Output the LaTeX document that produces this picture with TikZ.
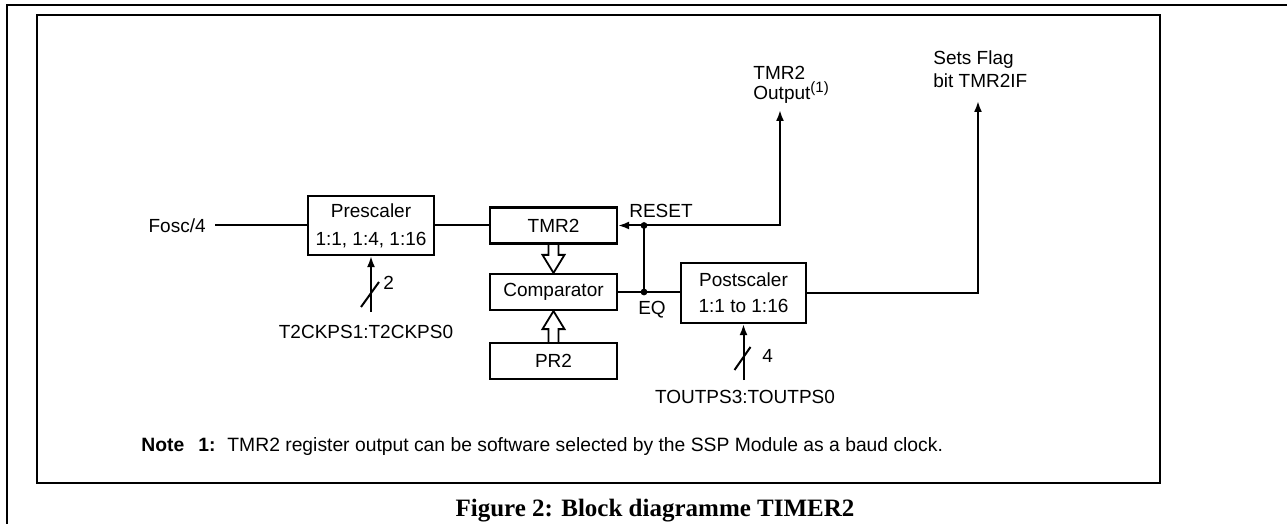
\documentclass[tikz,border=0pt]{standalone}
\usepackage{fontspec}
\setmainfont{Liberation Sans}
\newfontfamily\captionserif{Liberation Serif}
\usetikzlibrary{arrows.meta,calc}
\begin{document}
\begin{tikzpicture}[x=0.5pt,y=-0.5pt,
  every node/.style={font=\fontsize{9.5}{11.5}\selectfont, inner sep=0pt},
  blk/.style={draw, line width=1.1pt, align=center},
  wire/.style={line width=1pt},
  arr/.style={wire, -{Latex[length=5.5pt,width=4pt]}},
  hollow/.style={draw, line width=0.9pt, line join=miter},
  jdot/.style={circle, fill, minimum size=3.4pt, inner sep=0pt},
  frame/.style={line width=1.1pt}]
\useasboundingbox (0,0) rectangle (1287,524);

% page rules and figure frame
\draw[frame] (7,524) -- (7,5) -- (1287,5);
\draw[frame] (37,15) rectangle (1160,483);

% blocks
\node[blk, minimum width=63pt, minimum height=29.5pt] (pre) at (371,225.5)
  {Prescaler\\[2.5pt]1:1, 1:4, 1:16};
\node[blk, minimum width=63.5pt, minimum height=18pt] (tmr) at (553.5,225.5) {TMR2};
\node[blk, minimum width=63.5pt, minimum height=18pt] (cmp) at (553.5,292) {Comparator};
\node[blk, minimum width=63.5pt, minimum height=18pt] (pr) at (553.5,361) {PR2};
\node[blk, minimum width=62.5pt, minimum height=30pt] (post) at (743.5,293)
  {Postscaler\\[1.5pt]1:1 to 1:16};

% clock input
\node[anchor=east] (fosc) at (206,225.5) {Fosc/4};
\draw[wire] ([xshift=4.5pt]fosc.east) -- (pre.west);
\draw[wire] (pre.east) -- (tmr.west);

% prescaler select bits
\coordinate (prepin) at (371,312);
\draw[arr] (prepin) -- (pre.south);
\draw[wire] ($(prepin)+(-10,-5)$) -- ($(prepin)+(8,-30)$);
\node[anchor=west] (prebits) at (383,283) {2};
\node (prelbl) at (366,332) {T2CKPS1:T2CKPS0};

% TMR2 -> comparator, PR2 -> comparator (hollow bus arrows)
\draw[hollow] ($(tmr.south)+(-5,0)$) -- ($(cmp.north)+(-5,-18)$) -- ($(cmp.north)+(-11,-18)$)
  -- (cmp.north) -- ($(cmp.north)+(11,-18)$) -- ($(cmp.north)+(5,-18)$) -- ($(tmr.south)+(5,0)$);
\draw[hollow] ($(pr.north)+(-5,0)$) -- ($(cmp.south)+(-5,18)$) -- ($(cmp.south)+(-11,18)$)
  -- (cmp.south) -- ($(cmp.south)+(11,18)$) -- ($(cmp.south)+(5,18)$) -- ($(pr.north)+(5,0)$);

% match signal, reset and TMR2 output
\coordinate (rst) at (644,225.5);
\coordinate (eq) at (644,292);
\draw[wire] (cmp.east) -- (eq) -- (eq -| post.west);
\draw[wire] (eq) -- (rst);
\draw[arr] (rst) -- (tmr.east);
\coordinate (tout) at (780,110);
\draw[arr] (rst) -| (tout);
\node[jdot] (rstdot) at (rst) {};
\node[jdot] (eqdot) at (eq) {};
\node (rstlbl) at (661,211) {RESET};
\node (eqlbl) at (652,310) {EQ};
\node[anchor=north west, align=left, font=\fontsize{9.5}{8.6}\selectfont] (toutlbl) at (753,66)
  {TMR2\\Output\raisebox{3.5pt}{\fontsize{7.5}{8}\selectfont(1)}};

% postscaler output to interrupt flag
\coordinate (flag) at (978,101);
\draw[arr] (post.east) -| (flag);
\node[anchor=north west, align=left] (flaglbl) at (933,50) {Sets Flag\\bit TMR2IF};

% postscaler select bits
\coordinate (postpin) at (743.5,380);
\draw[arr] (postpin) -- (post.south);
\draw[wire] ($(postpin)+(-9,-10)$) -- ($(postpin)+(7,-33)$);
\node[anchor=west] (postbits) at (762,356) {4};
\node (postlbl) at (745,397) {TOUTPS3:TOUTPS0};

% footnote
\node[anchor=west, font=\fontsize{9.65}{11.5}\selectfont] (note) at (141,447)
  {\textbf{Note\hspace{7pt}1:}\hspace{6pt}TMR2 register output can be software selected by the SSP Module as a baud clock.};

% caption
\node (cap) at (655,511) {\captionserif\bfseries\fontsize{12.5}{15}\selectfont Figure 2: Block diagramme TIMER2};
\end{tikzpicture}
\end{document}
